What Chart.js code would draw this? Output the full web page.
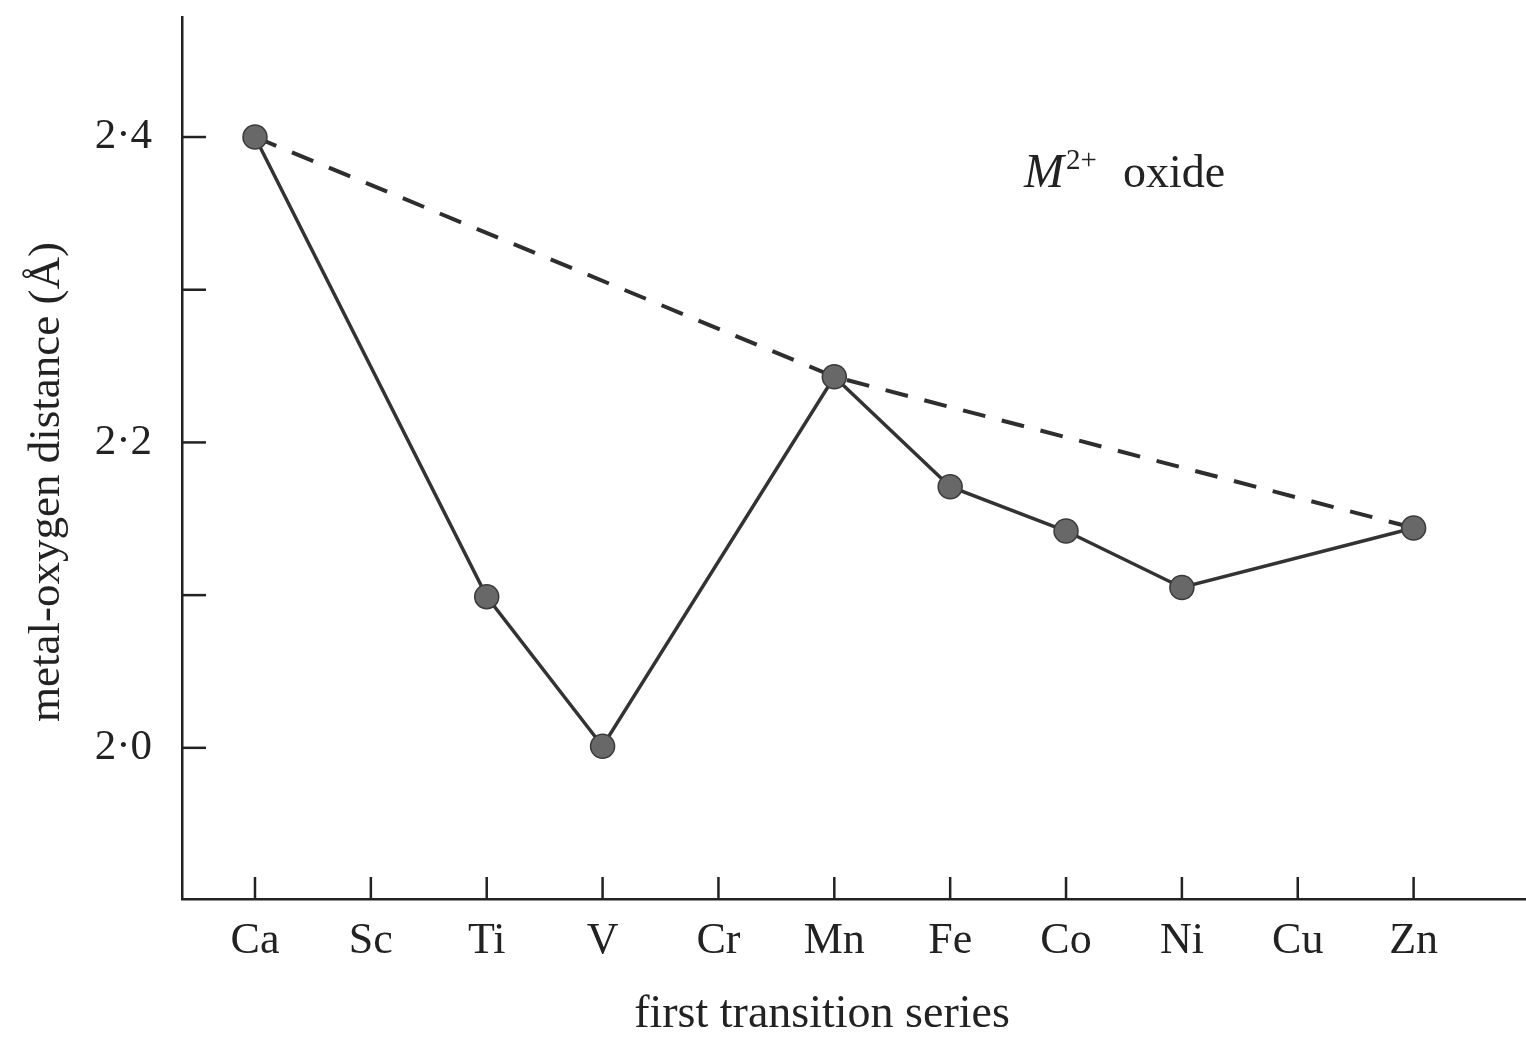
<!DOCTYPE html>
<html>
<head>
<meta charset="utf-8">
<script src="https://cdn.jsdelivr.net/npm/chart.js@4"></script>
<style>
  html, body { margin: 0; padding: 0; background: #fff; }
  canvas { display: block; }
</style>
</head>
<body>
<canvas id="chart" width="1526" height="1039"></canvas>
<script>
// first transition series, M2+ oxides
const elements = ["Ca", "Sc", "Ti", "V", "Cr", "Mn", "Fe", "Co", "Ni", "Cu", "Zn"];
const distance = [2.40, null, 2.099, 2.001, null, 2.243, 2.171, 2.142, 2.105, null, 2.144];
// dashed reference line through the spherical ions
const trend = [2.40, null, null, null, null, 2.243, null, null, null, null, 2.144];
const yTicks = [2.0, 2.1, 2.2, 2.3, 2.4];
const yTickLabels = ["2·0", "", "2·2", "", "2·4"];

const ink = "#222";
const serif = "'Liberation Serif', 'DejaVu Serif', serif";

const toPoints = (arr) => arr.map((v, i) => ({ x: i, y: v }));

// ticks point inward, titles and the label drawn by hand
const extras = {
  id: "extras",
  afterDraw(chart) {
    const { ctx, chartArea, scales } = chart;
    ctx.save();
    ctx.strokeStyle = ink;
    ctx.lineWidth = 2.5;
    scales.x.ticks.forEach((t) => {
      const px = scales.x.getPixelForValue(t.value);
      ctx.beginPath();
      ctx.moveTo(px, chartArea.bottom);
      ctx.lineTo(px, chartArea.bottom - 22);
      ctx.stroke();
    });
    scales.y.ticks.forEach((t) => {
      const py = scales.y.getPixelForValue(t.value);
      ctx.beginPath();
      ctx.moveTo(chartArea.left, py);
      ctx.lineTo(chartArea.left + 24, py);
      ctx.stroke();
    });

    ctx.fillStyle = ink;
    ctx.textBaseline = "alphabetic";
    ctx.textAlign = "center";
    ctx.font = "46px " + serif;
    ctx.fillText("first transition series", 822, 1027);

    ctx.save();
    ctx.translate(59, 482);
    ctx.rotate(-Math.PI / 2);
    ctx.font = "45px " + serif;
    ctx.fillText("metal-oxygen distance (Å)", 0, 0);
    ctx.restore();

    ctx.textAlign = "left";
    ctx.font = "italic 48px " + serif;
    ctx.fillText("M", 1024, 187);
    ctx.font = "29px " + serif;
    ctx.fillText("2+", 1066, 169);
    ctx.font = "46px " + serif;
    ctx.fillText("oxide", 1123, 187);
    ctx.restore();
  }
};

new Chart(document.getElementById("chart"), {
  type: "line",
  data: {
    datasets: [
      {
        data: toPoints(distance),
        borderColor: "#333",
        borderWidth: 3.5,
        pointRadius: 12,
        pointBackgroundColor: "#686868",
        pointBorderColor: "#3a3a3a",
        pointBorderWidth: 1.5,
        spanGaps: true,
        tension: 0,
        order: 1
      },
      {
        data: toPoints(trend),
        borderColor: "#2e2e2e",
        borderWidth: 4,
        borderDash: [23, 17],
        pointRadius: 0,
        spanGaps: true,
        tension: 0,
        order: 2
      }
    ]
  },
  options: {
    responsive: false,
    animation: false,
    devicePixelRatio: 1,
    layout: { autoPadding: false, padding: { top: 17, right: 0, left: 0, bottom: 0 } },
    plugins: { legend: { display: false }, tooltip: { enabled: false } },
    scales: {
      x: {
        type: "linear",
        min: -0.63,
        max: 10.97,
        afterBuildTicks: (s) => { s.ticks = elements.map((_, i) => ({ value: i })); },
        afterFit: (s) => { s.height = 140; s.paddingLeft = 0; s.paddingRight = 0; },
        grid: { display: false, drawTicks: false },
        border: { display: true, color: ink, width: 2.5 },
        ticks: {
          padding: 16,
          color: ink,
          font: { family: serif, size: 44 },
          callback: (v) => elements[v] ?? ""
        }
      },
      y: {
        min: 1.901,
        max: 2.4786,
        afterBuildTicks: (s) => { s.ticks = yTicks.map((v) => ({ value: v })); },
        afterFit: (s) => { s.width = 182; s.paddingTop = 0; s.paddingBottom = 0; },
        grid: { display: false, drawTicks: false },
        border: { display: true, color: ink, width: 2.5 },
        ticks: {
          padding: 30,
          color: ink,
          font: { family: serif, size: 43 },
          callback: (v, i) => yTickLabels[i]
        }
      }
    }
  },
  plugins: [extras]
});
</script>
</body>
</html>
